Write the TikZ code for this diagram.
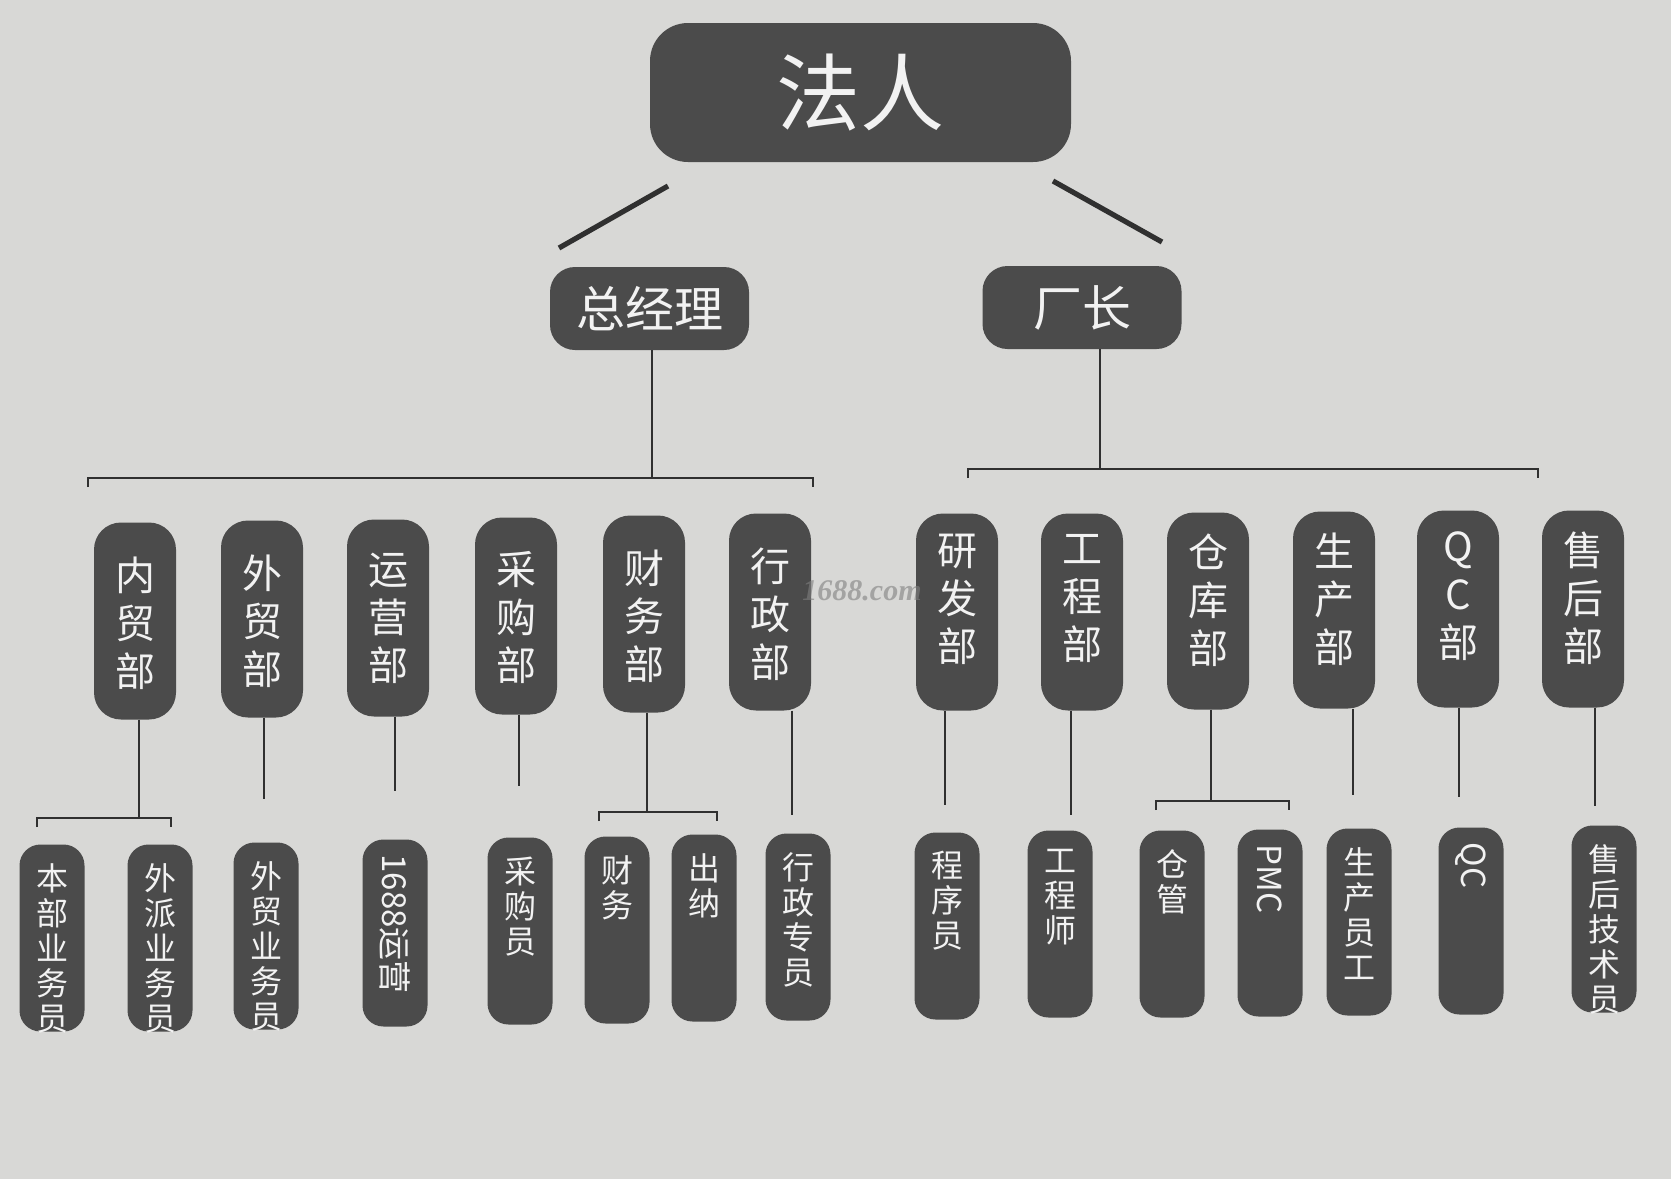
\documentclass[tikz,border=0pt]{standalone}
\usepackage{fontspec}
\setmainfont{Noto Sans CJK SC}
\newfontfamily\wmfont{Liberation Serif}
\usepackage{graphicx}
\definecolor{bgc}{HTML}{D8D8D6}
\definecolor{boxc}{HTML}{4B4B4B}
\definecolor{txtc}{HTML}{F2F2F2}
\definecolor{linec}{HTML}{303030}
\newcommand\dtxt[2]{\parbox[c][98.5pt][t]{41pt}{\fontsize{20pt}{24pt}\selectfont\centering\vspace*{#1}#2}}
\newcommand\stxt[1]{\parbox[c][93.5pt][t]{32.5pt}{\fontsize{16pt}{17.5pt}\selectfont\centering\vspace*{9.5pt}#1}}
\newcommand\rtxt[1]{\parbox[c][93.5pt][t]{32.5pt}{\fontsize{16.5pt}{18pt}\selectfont\centering\vspace*{7.5pt}\rotatebox{-90}{#1}}}
\tikzset{
  boxbase/.style={fill=boxc, text=txtc, inner sep=0pt, outer sep=0pt},
  topbox/.style={boxbase, rounded corners=19pt, minimum width=210.5pt, minimum height=69.5pt, font=\fontsize{42pt}{48pt}\selectfont},
  midbox/.style={boxbase, rounded corners=12.5pt, minimum width=99.5pt, minimum height=41.5pt, font=\fontsize{24.5pt}{28pt}\selectfont},
  deptbox/.style={boxbase, rounded corners=13.5pt},
  staffbox/.style={boxbase, rounded corners=10.5pt},
  conn/.style={draw=linec, line width=1pt},
  diag/.style={draw=linec, line width=2.6pt},
}
\begin{document}
\begin{tikzpicture}[x=0.5pt,y=-0.5pt]
\fill[bgc] (0,0) rectangle (1671,1179);
\useasboundingbox (0,0) rectangle (1671,1179);

% top level
\node[topbox] (faren) at (860.5,92.5) {法人};
\node[midbox] (zjl) at (649.5,308.5) {总经理};
\node[midbox] (cz) at (1082,307.5) {厂长};

\coordinate (fa1) at (668,186); \coordinate (fa2) at (559,248);
\coordinate (fb1) at (1053,181); \coordinate (fb2) at (1162,242);
\draw[diag] (fa1) -- (fa2);
\draw[diag] (fb1) -- (fb2);

% buses
\coordinate (busL) at (652,478);
\coordinate (busLa) at (88,478); \coordinate (busLb) at (813,478);
\coordinate (busR) at (1100,469);
\coordinate (busRa) at (968,469); \coordinate (busRb) at (1538,469);
\draw[conn] (zjl.south -| busL) -- (busL);
\draw[conn] ([yshift=-4.5pt]busLa) -- (busLa) -- (busLb) -- ([yshift=-4.5pt]busLb);
\draw[conn] (cz.south -| busR) -- (busR);
\draw[conn] ([yshift=-4.5pt]busRa) -- (busRa) -- (busRb) -- ([yshift=-4.5pt]busRb);

% departments
\node[deptbox] (d1) at (135,621) {\dtxt{17pt}{内\\贸\\部}};
\node[deptbox] (d2) at (262,619) {\dtxt{17pt}{外\\贸\\部}};
\node[deptbox] (d3) at (388,618) {\dtxt{17pt}{运\\营\\部}};
\node[deptbox] (d4) at (516,616) {\dtxt{17pt}{采\\购\\部}};
\node[deptbox] (d5) at (644,614) {\dtxt{17pt}{财\\务\\部}};
\node[deptbox] (d6) at (770,612) {\dtxt{17pt}{行\\政\\部}};
\node[deptbox] (d7) at (957,612) {\dtxt{10.5pt}{研\\发\\部}};
\node[deptbox] (d8) at (1082,612) {\dtxt{10.5pt}{工\\程\\部}};
\node[deptbox] (d9) at (1208,611) {\dtxt{10.5pt}{仓\\库\\部}};
\node[deptbox] (d10) at (1334,610) {\dtxt{10.5pt}{生\\产\\部}};
\node[deptbox] (d11) at (1458,609) {\dtxt{10.5pt}{Q\\C\\部}};
\node[deptbox] (d12) at (1583,609) {\dtxt{10.5pt}{售\\后\\部}};

% staff
\node[staffbox] (s1) at (52,938) {\stxt{本\\部\\业\\务\\员}};
\node[staffbox] (s2) at (160,938) {\stxt{外\\派\\业\\务\\员}};
\node[staffbox] (s3) at (266,936) {\stxt{外\\贸\\业\\务\\员}};
\node[staffbox] (s4) at (395,933) {\rtxt{1688运营}};
\node[staffbox] (s5) at (520,931) {\stxt{采\\购\\员}};
\node[staffbox] (s6) at (617,930) {\stxt{财\\务}};
\node[staffbox] (s7) at (704,928) {\stxt{出\\纳}};
\node[staffbox] (s8) at (798,927) {\stxt{行\\政\\专\\员}};
\node[staffbox] (s9) at (947,926) {\stxt{程\\序\\员}};
\node[staffbox] (s10) at (1060,924) {\stxt{工\\程\\师}};
\node[staffbox] (s11) at (1172,924) {\stxt{仓\\管}};
\node[staffbox] (s12) at (1270,923) {\rtxt{PMC}};
\node[staffbox] (s13) at (1359,922) {\stxt{生\\产\\员\\工}};
\node[staffbox] (s14) at (1471,921) {\rtxt{QC}};
\node[staffbox] (s15) at (1604,919) {\stxt{售\\后\\技\\术\\员}};

% department connectors
\coordinate (e1) at (139,818);
\coordinate (e1a) at (37,818); \coordinate (e1b) at (171,818);
\draw[conn] (d1.south -| e1) -- (e1);
\draw[conn] ([yshift=-4.5pt]e1a) -- (e1a) -- (e1b) -- ([yshift=-4.5pt]e1b);
\coordinate (e2) at (264,799);
\draw[conn] (d2.south -| e2) -- (e2);
\coordinate (e3) at (395,791);
\draw[conn] (d3.south -| e3) -- (e3);
\coordinate (e4) at (519,786);
\draw[conn] (d4.south -| e4) -- (e4);
\coordinate (e5) at (647,812);
\coordinate (e5a) at (599,812); \coordinate (e5b) at (717,812);
\draw[conn] (d5.south -| e5) -- (e5);
\draw[conn] ([yshift=-4.5pt]e5a) -- (e5a) -- (e5b) -- ([yshift=-4.5pt]e5b);
\coordinate (e6) at (792,815);
\draw[conn] (d6.south -| e6) -- (e6);
\coordinate (e7) at (945,805);
\draw[conn] (d7.south -| e7) -- (e7);
\coordinate (e8) at (1071,815);
\draw[conn] (d8.south -| e8) -- (e8);
\coordinate (e9) at (1211,801);
\coordinate (e9a) at (1156,801); \coordinate (e9b) at (1289,801);
\draw[conn] (d9.south -| e9) -- (e9);
\draw[conn] ([yshift=-4.5pt]e9a) -- (e9a) -- (e9b) -- ([yshift=-4.5pt]e9b);
\coordinate (e10) at (1353,795);
\draw[conn] (d10.south -| e10) -- (e10);
\coordinate (e11) at (1459,797);
\draw[conn] (d11.south -| e11) -- (e11);
\coordinate (e12) at (1595,806);
\draw[conn] (d12.south -| e12) -- (e12);

% watermark
\node[text=gray, opacity=0.6, font=\wmfont\bfseries\itshape\fontsize{15pt}{16pt}\selectfont] (wm) at (862,591) {1688.com};
\end{tikzpicture}
\end{document}
